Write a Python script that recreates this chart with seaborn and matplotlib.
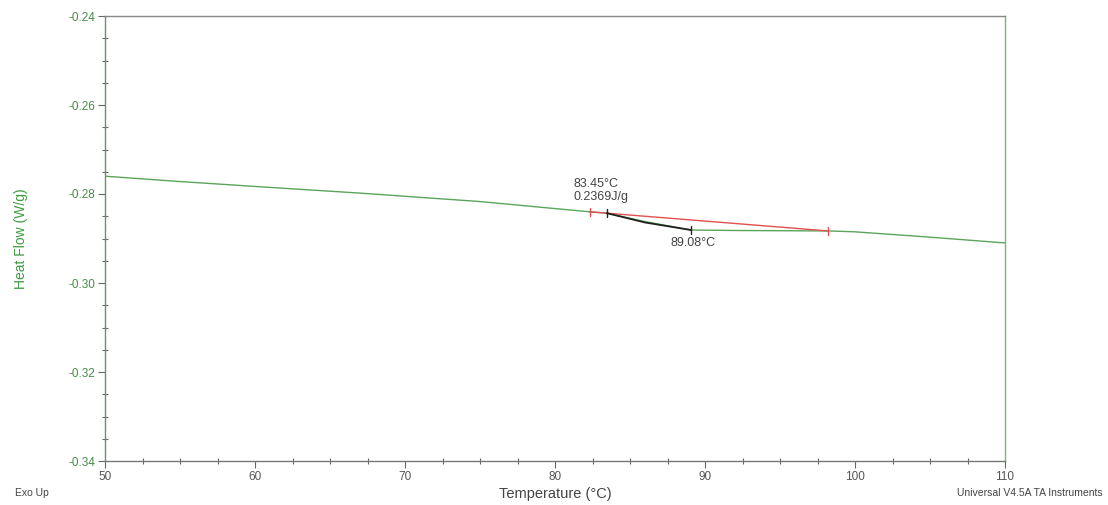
import matplotlib
matplotlib.use("Agg")
import matplotlib.pyplot as plt
from matplotlib.ticker import MultipleLocator
import seaborn as sns
import pandas as pd

# Data
temp = [50, 55, 60, 67, 75, 82.3, 83.45, 86, 89.08, 92, 98.2, 100, 105, 110]
heat_flow = [-0.2760, -0.2772, -0.2783, -0.2798, -0.2817, -0.2840, -0.2843,
             -0.2862, -0.2881, -0.2882, -0.2883, -0.2885, -0.2897, -0.2910]

# Transition analysis lines
black_x = [83.45, 86.0, 89.08]
black_y = [-0.2843, -0.2864, -0.2881]
red_x = [82.3, 98.2]
red_y = [-0.2840, -0.2883]

onset_label = "83.45°C\n0.2369J/g"
peak_label = "89.08°C"

sns.set_style("white")
plt.rcParams['font.family'] = ['Liberation Sans', 'DejaVu Sans']

fig = plt.figure(figsize=(11.08, 5.05), dpi=100)
ax = fig.add_axes([105 / 1108, 44 / 505, 900 / 1108, 445 / 505])

df = pd.DataFrame({"Temperature": temp, "Heat Flow": heat_flow})
green = "#5aa55a"
sns.lineplot(data=df, x="Temperature", y="Heat Flow", ax=ax, color=green, linewidth=1.0)

ax.plot(red_x, red_y, color="#e05050", linewidth=1.0)
ax.plot(black_x, black_y, color="#222222", linewidth=1.3)

# tick marks on analysis points
for x, y in zip(red_x, red_y):
    ax.plot([x, x], [y - 0.0009, y + 0.0009], color="#e05050", linewidth=1.0)
for x, y in zip([black_x[0], black_x[-1]], [black_y[0], black_y[-1]]):
    ax.plot([x, x], [y - 0.0009, y + 0.0009], color="#222222", linewidth=1.0)

ax.text(81.2, -0.2820, onset_label, fontsize=9, color="#444444", va="bottom", ha="left",
        linespacing=1.1)
ax.text(89.2, -0.2896, peak_label, fontsize=9, color="#444444", va="top", ha="center")

ax.set_xlim(50, 110)
ax.set_ylim(-0.34, -0.24)
ax.xaxis.set_major_locator(MultipleLocator(10))
ax.xaxis.set_minor_locator(MultipleLocator(2.5))
ax.yaxis.set_major_locator(MultipleLocator(0.02))
ax.yaxis.set_minor_locator(MultipleLocator(0.005))
ax.yaxis.set_major_formatter(matplotlib.ticker.FuncFormatter(lambda v, p: f"{v:.2f}"))

ax.tick_params(axis="both", which="both", bottom=True, left=True, top=False, right=False)
ax.tick_params(axis="both", which="major", direction="out", length=5, width=0.8,
               labelsize=8.5, colors="#666666", pad=2)
ax.tick_params(axis="both", which="minor", direction="inout", length=4, width=0.8,
               colors="#666666")
ax.tick_params(axis="y", labelcolor="#4a8a4a")
ax.tick_params(axis="x", labelcolor="#555555")

for side in ["left", "right", "top", "bottom"]:
    ax.spines[side].set_visible(True)
    ax.spines[side].set_linewidth(1.0)
ax.spines["left"].set_color("#6b8f6b")
ax.spines["right"].set_color("#7fb07f")
ax.spines["top"].set_color("#888888")
ax.spines["bottom"].set_color("#777777")

ax.set_xlabel("Temperature (°C)", fontsize=10.5, color="#444444", labelpad=3)
ax.set_ylabel("Heat Flow (W/g)", fontsize=10, color="#3f9a3f", labelpad=29)

fig.text(15 / 1108, 1 - 493 / 505, "Exo Up", fontsize=7.5, color="#444444", va="center", ha="left")
fig.text(1103 / 1108, 1 - 493 / 505, "Universal V4.5A TA Instruments", fontsize=7.5,
         color="#444444", va="center", ha="right")

fig.savefig("out.png", dpi=100, facecolor="white")
